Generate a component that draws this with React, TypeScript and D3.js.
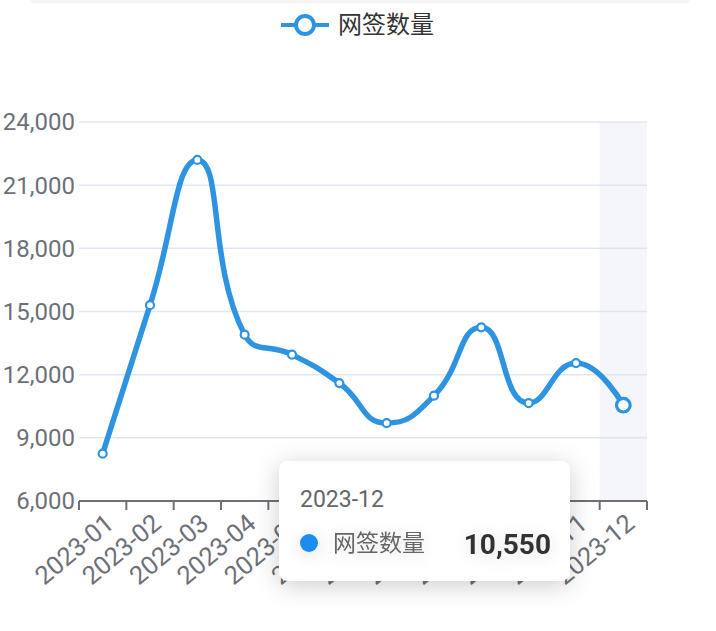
import * as d3 from 'd3';

const MONTHS = [
  '2023-01', '2023-02', '2023-03', '2023-04', '2023-05', '2023-06',
  '2023-07', '2023-08', '2023-09', '2023-10', '2023-11', '2023-12',
];
const SIGNED = [8250, 15300, 22200, 13900, 12950, 11600, 9700, 11000, 14250, 10650, 12550, 10550];
const Y_TICKS = [6000, 9000, 12000, 15000, 18000, 21000, 24000];
const SERIES_NAME = '网签数量';
const ACTIVE = '2023-12';

const W = 716;
const H = 631;
const M = { left: 79, right: 647, top: 122, bottom: 501 };
const BLUE = '#2e94e2';
const FONT = 'Roboto, "Noto Sans CJK SC", sans-serif';

// echarts-like smoothing: control points clamped inside each segment's box
function smoothPath(pts: [number, number][], smooth = 0.5) {
  const p = d3.path();
  let cpx0 = 0, cpy0 = 0, prevX = 0, prevY = 0;
  pts.forEach(([x, y], i) => {
    if (i === 0) {
      p.moveTo(x, y);
      cpx0 = x; cpy0 = y;
    } else {
      let cpx1 = x, cpy1 = y, ncx = x, ncy = y;
      const next = pts[i + 1];
      if (next) {
        const [nx, ny] = next;
        let vx = nx - prevX, vy = ny - prevY;
        const lp = Math.hypot(x - prevX, y - prevY);
        const ln = Math.hypot(nx - x, ny - y);
        const r = ln / (ln + lp);
        ncx = x + vx * smooth * r;
        ncy = y + vy * smooth * r;
        ncx = Math.max(Math.min(ncx, Math.max(nx, x)), Math.min(nx, x));
        ncy = Math.max(Math.min(ncy, Math.max(ny, y)), Math.min(ny, y));
        vx = ncx - x; vy = ncy - y;
        cpx1 = x - vx * lp / ln;
        cpy1 = y - vy * lp / ln;
        cpx1 = Math.max(Math.min(cpx1, Math.max(prevX, x)), Math.min(prevX, x));
        cpy1 = Math.max(Math.min(cpy1, Math.max(prevY, y)), Math.min(prevY, y));
        vx = x - cpx1; vy = y - cpy1;
        ncx = x + vx * ln / lp;
        ncy = y + vy * ln / lp;
      }
      p.bezierCurveTo(cpx0, cpy0, cpx1, cpy1, x, y);
      cpx0 = ncx; cpy0 = ncy;
    }
    prevX = x; prevY = y;
  });
  return p.toString();
}

export default function App() {
  const x = d3.scaleBand<string>().domain(MONTHS).range([M.left, M.right]).paddingInner(0).paddingOuter(0);
  const y = d3.scaleLinear().domain([6000, 24000]).range([M.bottom, M.top]);
  const cx = (m: string) => (x(m) ?? 0) + x.bandwidth() / 2;

  const pts: [number, number][] = MONTHS.map((m, i) => [cx(m), y(SIGNED[i])]);
  const boundaries = [...MONTHS.map(m => x(m) ?? 0), M.right];
  const activeVal = SIGNED[MONTHS.indexOf(ACTIVE)];

  return (
    <div style={{ position: 'fixed', left: 0, top: 0 }}>
      <svg width={W} height={H} style={{ display: 'block', background: '#fff', fontFamily: FONT }}>
        <defs>
          <filter id="tipShadow" x="-25%" y="-40%" width="150%" height="190%">
            <feDropShadow dx="0" dy="4" stdDeviation="12" floodColor="#000" floodOpacity="0.2" />
          </filter>
          <filter id="rowShadow" x="-20%" y="-80%" width="140%" height="260%">
            <feDropShadow dx="0" dy="3" stdDeviation="8" floodColor="#000" floodOpacity="0.13" />
          </filter>
        </defs>

        <rect x={30} y={0} width={660} height={3} fill="#f4f5f7" />

        {/* legend */}
        <g transform="translate(305,25)">
          <line x1={-24} x2={24} stroke={BLUE} strokeWidth={4} />
          <circle r={9} fill="#fff" stroke={BLUE} strokeWidth={4} />
          <text x={33} dy="0.35em" fontSize={24} fill="#333">{SERIES_NAME}</text>
        </g>

        {/* axis pointer shadow */}
        <rect x={x(ACTIVE)} y={M.top} width={x.bandwidth()} height={M.bottom - M.top} fill="#f5f6f9" />

        {/* grid + y labels */}
        {Y_TICKS.map(t => (
          <g key={t}>
            {t !== 6000 && (
              <line x1={M.left} x2={M.right} y1={y(t)} y2={y(t)} stroke="#e0e6f1" strokeWidth={1.5} />
            )}
            <text x={M.left - 4} y={y(t)} dy="0.35em" textAnchor="end" fontSize={24} fill="#6e7079">
              {d3.format(',')(t)}
            </text>
          </g>
        ))}

        {/* x axis */}
        <line x1={M.left} x2={M.right} y1={M.bottom} y2={M.bottom} stroke="#6e7079" strokeWidth={2} />
        {boundaries.map((b, i) => (
          <line key={i} x1={b} x2={b} y1={M.bottom} y2={M.bottom + 9} stroke="#6e7079" strokeWidth={2} />
        ))}
        {MONTHS.map(m => (
          <text key={m} transform={`translate(${cx(m) + 1},${M.bottom + 11}) rotate(-40)`} textAnchor="end"
            dy="0.72em" fontSize={25.5} fill="#6e7079">
            {m}
          </text>
        ))}

        {/* series */}
        <path d={smoothPath(pts)} fill="none" stroke={BLUE} strokeWidth={5.5} strokeLinejoin="round" strokeLinecap="round" />
        {pts.map(([px, py], i) => (
          MONTHS[i] === ACTIVE
            ? <circle key={i} cx={px} cy={py} r={6.8} fill="#fff" stroke={BLUE} strokeWidth={3.2} />
            : <circle key={i} cx={px} cy={py} r={4} fill="#fff" stroke={BLUE} strokeWidth={2.2} />
        ))}

        {/* tooltip */}
        <g>
          <rect x={279} y={461} width={291} height={120} rx={9} fill="#fff" filter="url(#tipShadow)" />
          <text x={300} y={499} dy="0.35em" fontSize={23} fill="#666">{ACTIVE}</text>
          <g filter="url(#rowShadow)">
            <circle cx={309} cy={543} r={9} fill="#1a8cf0" />
            <text x={333} y={543} dy="0.35em" fontSize={23} fill="#666">{SERIES_NAME}</text>
            <text x={551} y={544} dy="0.35em" textAnchor="end" fontSize={28} fontWeight={700} fill="#333">
              {d3.format(',')(activeVal)}
            </text>
          </g>
        </g>
      </svg>
    </div>
  );
}
